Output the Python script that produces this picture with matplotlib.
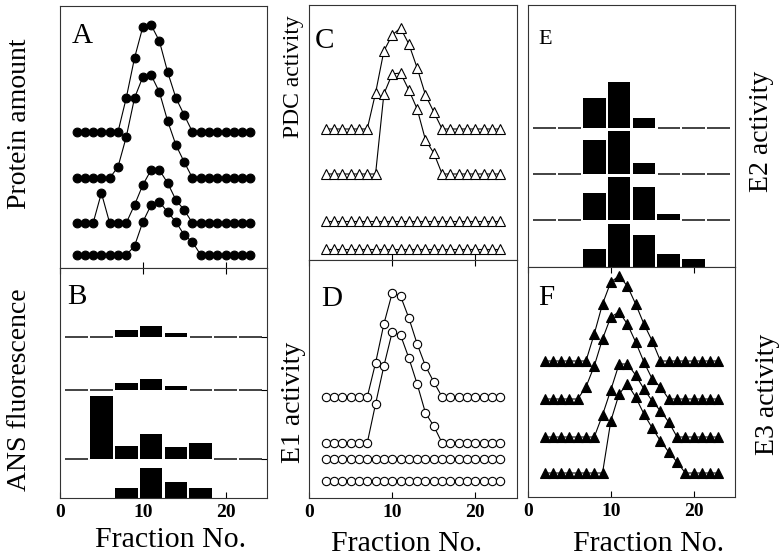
import matplotlib
matplotlib.use('Agg')
import matplotlib.pyplot as plt
import numpy as np

plt.rcParams['font.family'] = ['Liberation Serif', 'DejaVu Serif']

# --- data (arbitrary units) -------------------------------------------------
fractions = np.arange(2, 24)
bins = [2, 5, 8, 11, 14, 17, 20, 23]

# A: protein amount, four profiles from top to bottom
protein_1 = [0, 0, 0, 0, 0, 0, 34, 74, 105, 107, 91, 60, 34, 17, 0, 0, 0, 0, 0, 0, 0, 0]
protein_2 = [0, 0, 0, 0, 0, 11, 41, 80, 101, 103, 86, 57, 33, 16, 0, 0, 0, 0, 0, 0, 0, 0]
protein_3 = [0, 0, 0, 30, 0, 0, 0, 18, 38, 53, 53, 40, 23, 13, 0, 0, 0, 0, 0, 0, 0, 0]
protein_4 = [0, 0, 0, 0, 0, 0, 0, 9, 33, 50, 53, 43, 33, 20, 13, 0, 0, 0, 0, 0, 0, 0]

# B: ANS fluorescence (pooled fractions)
ans_1 = [0, 0, 6.7, 11, 4.4, 0, 0, 0]
ans_2 = [0, 0, 6.7, 10.7, 4, 0, 0, 0]
ans_3 = [0, 62.7, 13.3, 25, 11.7, 16, 0, 0]
ans_4 = [0, 0, 10, 30, 16.3, 10, 0, 0]

# C: PDC activity
pdc_1 = [0, 0, 0, 0, 0, 0, 36, 78, 94, 101, 85, 61, 34, 17, 0, 0, 0, 0, 0, 0, 0, 0]
pdc_2 = [0, 0, 0, 0, 0, 0, 0, 80, 100, 101, 84, 65, 34, 21, 0, 0, 0, 0, 0, 0, 0, 0]
pdc_3 = [0] * 22
pdc_4 = [0] * 22

# D: E1 activity
e1_1 = [0, 0, 0, 0, 0, 0, 34, 73, 104, 101, 79, 53, 31, 15, 0, 0, 0, 0, 0, 0, 0, 0]
e1_2 = [0, 0, 0, 0, 0, 0, 39, 77, 111, 108, 85, 59, 30, 17, 0, 0, 0, 0, 0, 0, 0, 0]
e1_3 = [0] * 22
e1_4 = [0] * 22

# E: E2 activity (pooled fractions)
e2_1 = [0, 0, 30, 46, 10.3, 0, 0, 0]
e2_2 = [0, 0, 34, 43, 10.7, 0, 0, 0]
e2_3 = [0, 0, 26.7, 43.3, 32.7, 6, 0, 0]
e2_4 = [0, 0, 18.3, 42.7, 31.7, 13.3, 8.3, 0]

# F: E3 activity
e3_1 = [0, 0, 0, 0, 0, 0, 27, 57, 79, 85, 75, 57, 37, 20, 0, 0, 0, 0, 0, 0, 0, 0]
e3_2 = [0, 0, 0, 0, 0, 12, 33, 60, 82, 87, 75, 57, 37, 20, 12, 0, 0, 0, 0, 0, 0, 0]
e3_3 = [0, 0, 0, 0, 0, 0, 0, 22, 47, 73, 73, 62, 48, 36, 26, 15, 0, 0, 0, 0, 0, 0]
e3_4 = [0, 0, 0, 0, 0, 0, 0, 0, 52, 79, 89, 76, 59, 45, 32, 21, 11, 0, 0, 0, 0, 0]

# vertical offsets of the stacked profiles (top to bottom)
offs_A = [136, 90, 45, 13]
offs_B = [161, 108, 39, 0]
offs_C = [131, 86, 39, 11]
offs_D = [101, 55, 39, 17]
offs_E = [139, 93, 47, 0]
offs_F = [136, 98, 60, 24]

# --- figure ------------------------------------------------------------------
W, H = 781, 558
fig = plt.figure(figsize=(W / 100, H / 100), dpi=100)
fig.patch.set_facecolor('white')


def box(left, right, top, bottom):
    return fig.add_axes([left / W, 1 - bottom / H, (right - left) / W, (bottom - top) / H])


def style(ax, ytop, labels=False):
    ax.set_xlim(0, 25)
    ax.set_ylim(0, ytop)
    ax.set_yticks([])
    ax.set_xticks([0, 10, 20] if labels else [10, 20])
    ax.tick_params(axis='x', direction='in', length=4, width=0.8, top=labels,
                   labelbottom=labels, labelsize=14, pad=4)
    for lab in ax.get_xticklabels():
        lab.set_fontweight('bold')
    for s in ax.spines.values():
        s.set_linewidth(0.8)
        s.set_color('#333333')


def lines(ax, series, offs, marker, filled, ms):
    for vals, off in zip(series, offs):
        ax.plot(fractions, np.array(vals) + off, color='black', lw=0.8,
                marker=marker, ms=ms, mew=0.8, mec='black',
                mfc='black' if filled else 'white', clip_on=False, zorder=3)


def bars(ax, series, offs):
    for vals, off in zip(series, offs):
        for c, v in zip(bins, vals):
            if v > 0:
                ax.bar(c, v, width=2.75, bottom=off, color='black', zorder=2)
            elif off > 0:
                ax.hlines(off, c - 1.35, c + 1.35, color='#222222', lw=1.2)


axA = box(60, 267, 6, 268)
axB = box(60, 267, 268, 498)
axC = box(309, 517, 5, 260)
axD = box(309, 517, 260, 498)
axE = box(528, 735, 5, 267)
axF = box(528, 735, 267, 497)

style(axA, 262)
style(axB, 230, labels=True)
style(axC, 255)
style(axD, 238, labels=True)
style(axE, 262)
style(axF, 230, labels=True)

lines(axA, [protein_1, protein_2, protein_3, protein_4], offs_A, 'o', True, 6.3)
bars(axB, [ans_1, ans_2, ans_3, ans_4], offs_B)
lines(axC, [pdc_1, pdc_2, pdc_3, pdc_4], offs_C, '^', False, 6.5)
lines(axD, [e1_1, e1_2, e1_3, e1_4], offs_D, 'o', False, 6)
bars(axE, [e2_1, e2_2, e2_3, e2_4], offs_E)
lines(axF, [e3_1, e3_2, e3_3, e3_4], offs_F, '^', True, 6.5)

# baseline ticks on the right edge of B
axB.yaxis.set_ticks_position('right')
axB.set_yticks(offs_B[:3])
axB.tick_params(axis='y', direction='in', length=4, width=0.8, labelright=False)

# panel letters (pixel position of the glyph's top-left corner)
for letter, x, y, fs in [('A', 72, 23, 21), ('B', 67, 284, 21), ('C', 315, 28, 21),
                         ('D', 321, 286, 21), ('E', 538, 30, 16), ('F', 538, 285, 21)]:
    fig.text(x / W, 1 - y / H, letter, fontsize=fs, va='top', ha='left')


# axis labels
def ylab(x, y, s, fs=20):
    fig.text(x / W, 1 - y / H, s, rotation=90, fontsize=fs, ha='center', va='center')


ylab(20, 124, 'Protein amount')
ylab(20, 390, 'ANS fluorescence')
ylab(293, 77, 'PDC activity', fs=17)
ylab(293, 402, 'E1 activity')
ylab(762, 131, 'E2 activity')
ylab(768, 394, 'E3 activity')

for x, y in [(171, 553), (407, 557), (649, 557)]:
    fig.text(x / W, 1 - y / H, 'Fraction No.', fontsize=21.5, ha='center', va='bottom')

fig.savefig('out.png', dpi=100, facecolor='white')
